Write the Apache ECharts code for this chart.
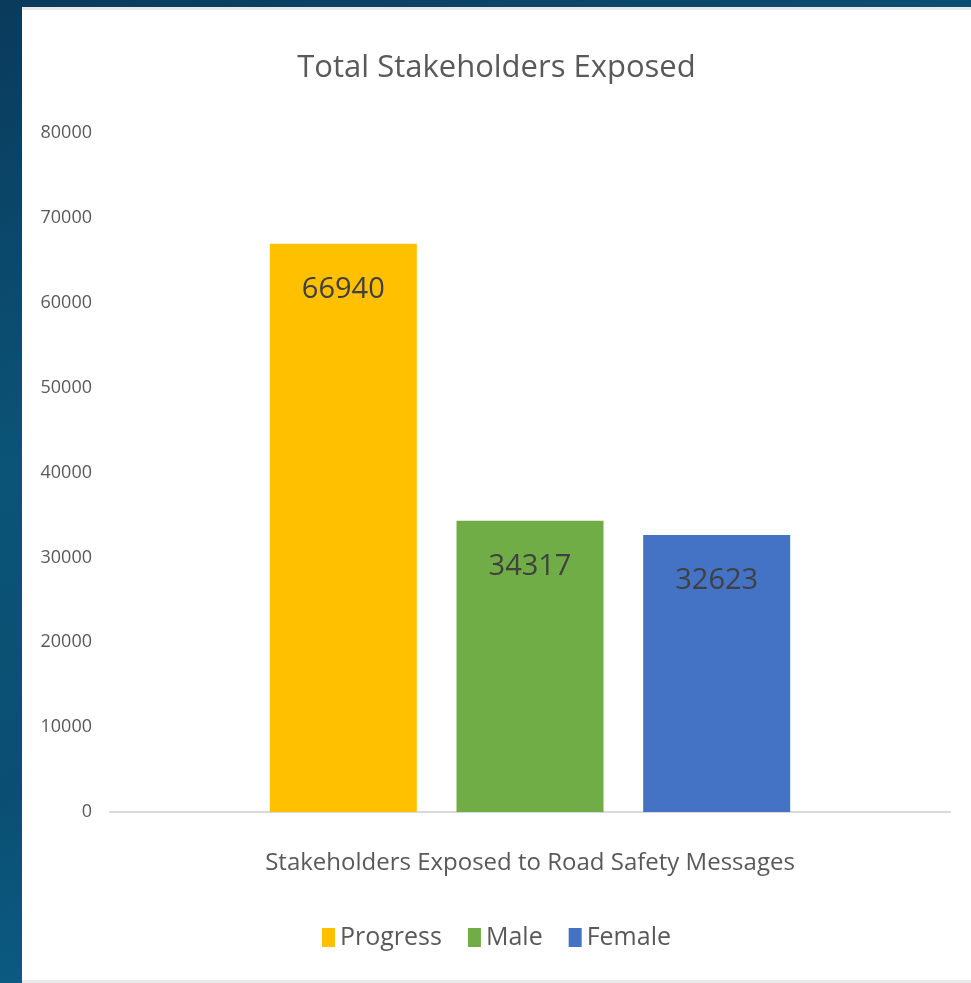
<!DOCTYPE html>
<html>
<head>
<meta charset="utf-8">
<script src="https://cdn.jsdelivr.net/npm/echarts@6/dist/echarts.min.js"></script>
<style>
  html, body { margin: 0; padding: 0; width: 971px; height: 983px; overflow: hidden; }
  body { background: linear-gradient(160deg, #0a3a5c 0%, #0b5477 35%, #0a4f73 60%, #0e6f9c 100%); }
  #frame { position: absolute; left: 22px; top: 7px; width: 949px; height: 976px; background: #e9e9e9; }
  #main { position: absolute; left: 22px; top: 10px; width: 949px; height: 970px; background: #fff; }
</style>
</head>
<body>
<div id="frame"></div>
<div id="main"></div>
<script>
var myChart = echarts.init(document.getElementById('main'));

var categories = ['Stakeholders Exposed to Road Safety Messages'];
var seriesNames = ['Progress', 'Male', 'Female'];
var progressData = [66940];
var maleData = [34317];
var femaleData = [32623];
var colors = ['#FFC000', '#70AD47', '#4472C4'];

var fontName = '"Open Sans", "Noto Sans", sans-serif';

function barSeries(name, data) {
	return {
		name: name,
		type: 'bar',
		barWidth: '17.5%',
		barGap: '27%',
		data: data,
		label: {
			show: true,
			position: 'insideTop',
			distance: 31,
			color: '#404040',
			fontSize: 29,
			fontFamily: fontName
		}
	};
}

var option = {
	color: colors,
	title: {
		text: 'Total Stakeholders Exposed',
		left: 'center',
		top: 38,
		textStyle: {
			color: '#595959',
			fontSize: 31,
			fontWeight: 'normal',
			fontFamily: fontName
		}
	},
	legend: {
		bottom: 25,
		left: 'center',
		itemWidth: 13,
		itemHeight: 19,
		itemGap: 26,
		icon: 'rect',
		textStyle: {
			color: '#595959',
			fontSize: 25,
			fontFamily: fontName
		},
		data: seriesNames
	},
	grid: {
		left: 88,
		right: 21,
		top: 123,
		bottom: 168
	},
	xAxis: {
		type: 'category',
		data: categories,
		axisLine: { lineStyle: { color: '#d9d9d9', width: 2 } },
		axisTick: { show: false },
		axisLabel: {
			margin: 39,
			color: '#595959',
			fontSize: 24,
			fontFamily: fontName
		}
	},
	yAxis: {
		type: 'value',
		min: 0,
		max: 80000,
		interval: 10000,
		splitLine: { show: false },
		axisLine: { show: false },
		axisTick: { show: false },
		axisLabel: {
			margin: 18,
			color: '#595959',
			fontSize: 18,
			fontFamily: fontName,
			formatter: function (v) { return String(v); }
		}
	},
	series: [
		barSeries(seriesNames[0], progressData),
		barSeries(seriesNames[1], maleData),
		barSeries(seriesNames[2], femaleData)
	]
};
myChart.setOption(option);
</script>
</body>
</html>
